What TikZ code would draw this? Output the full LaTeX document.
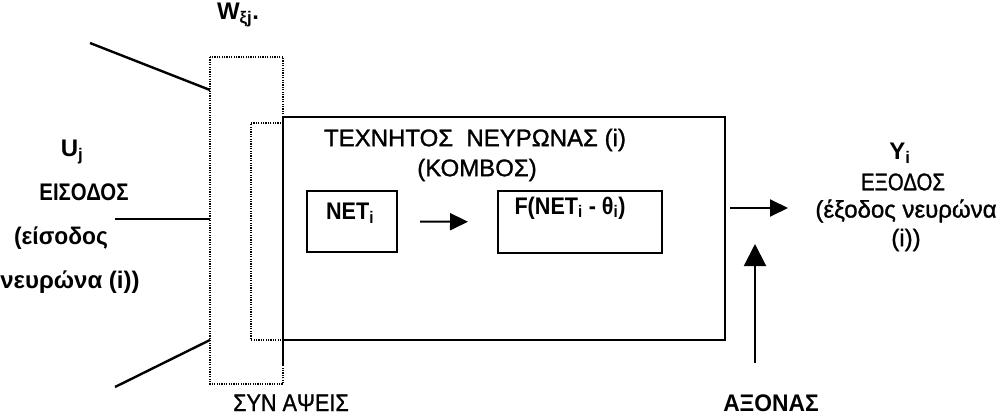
\documentclass[tikz,border=0pt]{standalone}
\usepackage{fontspec}
\setmainfont{Liberation Sans}
\newfontfamily\semibold[FakeBold=1.2]{Liberation Sans}
\usetikzlibrary{arrows.meta}
\newcommand{\narrow}[2]{\scalebox{#1}[1]{#2}}
\begin{document}
\begin{tikzpicture}[x=1pt,y=-1pt,
  lbl/.style={inner sep=0pt,font=\fontsize{24}{28}\selectfont\semibold},
  blbl/.style={inner sep=0pt,font=\fontsize{24}{28}\selectfont\bfseries},
  solidbox/.style={draw,line width=2pt},
  dotbox/.style={draw,line width=1.8pt,dash pattern=on 1.2pt off 1.2pt},
  inl/.style={line width=2.4pt},
  arr/.style={line width=2pt,-{Triangle[length=18pt,width=17pt]}},
  uparr/.style={line width=2pt,-{Triangle[length=22pt,width=22pt]}}]
\useasboundingbox (0,0) rectangle (999,415);
% synapse boxes
\draw[dotbox] (210,57) rectangle (283,384);
\draw[dotbox] (281,123) -- (251,123) -- (251,340) -- (281,340);
% neuron box
\draw[solidbox] (283,117) rectangle (725,340);
\draw[line width=2pt] (283,340) -- (283,365);
% inner boxes
\node[solidbox,minimum width=90pt,minimum height=61pt,anchor=north west,inner sep=0pt] (net) at (306,190) {};
\node[solidbox,minimum width=164pt,minimum height=62pt,anchor=north west,inner sep=0pt] (fbox) at (497,190) {};
\node[blbl] (nett) at (350,213) {\narrow{0.9}{NET\textsubscript{i}}};
\node[blbl] (ft) at (570,208) {\narrow{0.9}{F(NET\textsubscript{i} - θ\textsubscript{i})}};
\draw[arr,shorten <=22pt,shorten >=29pt] (net) -- (fbox);
% titles
\node[lbl] (t1) at (475,140) {ΤΕΧΝΗΤΟΣ\ \ ΝΕΥΡΩΝΑΣ (i)};
\node[lbl] (t2) at (477,170) {(ΚΟΜΒΟΣ)};
% inputs
\coordinate (i1s) at (90,43);  \coordinate (i1e) at (210,90);
\coordinate (i2s) at (115,219); \coordinate (i2e) at (210,219);
\coordinate (i3s) at (115,387); \coordinate (i3e) at (210,340);
\draw[inl] (i1s) -- (i1e);
\draw[inl] (i2s) -- (i2e);
\draw[inl] (i3s) -- (i3e);
% left labels
\node[blbl] (w) at (238,15) {W\textsubscript{ξj}.};
\node[blbl] (u) at (72,152) {U\textsubscript{j}};
\node[blbl] (in1) at (84,192) {\narrow{0.85}{ΕΙΣΟΔΟΣ}};
\node[blbl] (in2) at (61,238) {\narrow{0.95}{(είσοδος}};
\node[blbl] (in3) at (70,282) {νευρώνα (i))};
\node[lbl,anchor=base] (syn) at (291,411) {\narrow{0.9}{ΣΥΝ ΑΨΕΙΣ}};
% output
\coordinate (os) at (730,208); \coordinate (oe) at (788,208);
\draw[arr] (os) -- (oe);
\coordinate (as) at (755,363); \coordinate (ae) at (755,244);
\draw[uparr] (as) -- (ae);
\node[blbl,anchor=base] (ax) at (771,411) {\narrow{0.95}{ΑΞΟΝΑΣ}};
\node[blbl] (y) at (900,153) {Y\textsubscript{i}};
\node[lbl] (o1) at (903,182) {\narrow{0.85}{ΕΞΟΔΟΣ}};
\node[lbl] (o2) at (906,211) {(έξοδος νευρώνα};
\node[lbl] (o3) at (906,240) {(i))};
\end{tikzpicture}
\end{document}
